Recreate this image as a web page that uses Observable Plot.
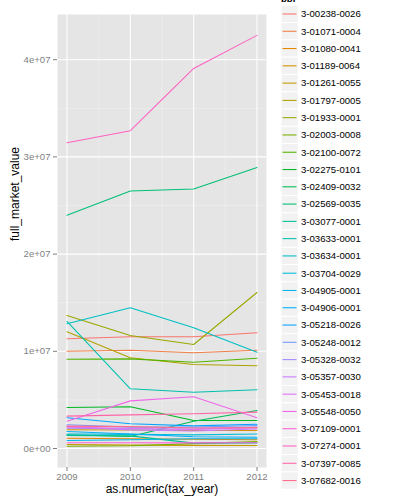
<!DOCTYPE html>
<html><head><meta charset="utf-8">
<script src="https://cdn.jsdelivr.net/npm/d3@7"></script>
<script src="https://cdn.jsdelivr.net/npm/@observablehq/plot@0.6"></script>
<style>
body{margin:0;background:#fff;}
#wrap{position:relative;width:396px;height:504px;overflow:hidden;font-family:"Liberation Sans",Arial,sans-serif;}
#wrap svg{position:absolute;left:0;top:0;}
</style></head><body><div id="wrap"></div>
<script>
const years = [2009, 2010, 2011, 2012];
const bbl = ["3-00238-0026","3-01071-0004","3-01080-0041","3-01189-0064","3-01261-0055","3-01797-0005","3-01933-0001","3-02003-0008","3-02100-0072","3-02275-0101","3-02409-0032","3-02569-0035","3-03077-0001","3-03633-0001","3-03634-0001","3-03704-0029","3-04905-0001","3-04906-0001","3-05218-0026","3-05248-0012","3-05328-0032","3-05357-0030","3-05453-0018","3-05548-0050","3-07109-0001","3-07274-0001","3-07397-0085","3-07682-0016"];
const v2009 = [11.3e6,10.0e6,1.06e6,1.92e6,0.41e6,12.0e6,13.68e6,0.24e6,9.19e6,4.22e6,1.41e6,24.0e6,1.34e6,13.07e6,12.83e6,1.5e6,0.82e6,1.75e6,3.16e6,2.44e6,2.09e6,2.26e6,2.2e6,2.81e6,0.59e6,31.45e6,3.33e6,2.3e6];
const v2010 = [11.5e6,10.1e6,1.0e6,1.9e6,0.35e6,9.33e6,11.63e6,0.28e6,9.22e6,4.29e6,1.23e6,26.5e6,1.3e6,6.14e6,14.47e6,1.45e6,0.9e6,1.5e6,2.54e6,2.2e6,2.0e6,1.9e6,2.05e6,4.9e6,0.6e6,32.7e6,3.46e6,2.25e6];
const v2011 = [11.5e6,9.85e6,0.95e6,1.85e6,0.32e6,8.64e6,10.7e6,0.5e6,8.88e6,2.88e6,2.81e6,26.7e6,0.55e6,5.79e6,12.42e6,1.4e6,1.0e6,1.2e6,2.33e6,2.2e6,2.0e6,1.8e6,1.95e6,5.32e6,0.58e6,39.1e6,3.57e6,2.1e6];
const v2012 = [11.9e6,10.1e6,0.9e6,1.85e6,0.31e6,8.51e6,16.05e6,0.72e6,9.29e6,2.88e6,3.91e6,28.9e6,0.58e6,6.04e6,9.91e6,1.5e6,1.0e6,1.16e6,2.49e6,2.37e6,2.2e6,2.0e6,2.15e6,3.16e6,0.6e6,42.5e6,3.74e6,2.15e6];
const yTicks = [0, 1e7, 2e7, 3e7, 4e7];
const yTickLabels = ["0e+00", "1e+07", "2e+07", "3e+07", "4e+07"];
const xMinor = [2009.5, 2010.5, 2011.5];
const yMinor = [0.5e7, 1.5e7, 2.5e7, 3.5e7];

// R's hcl() (polar LUV) -> sRGB hex, as used by ggplot2's hue palette
function hclR(h, c, l) {
  const WX = 95.047, WY = 100.0, WZ = 108.883;
  const hr = h * Math.PI / 180;
  const U = c * Math.cos(hr), V = c * Math.sin(hr);
  const Y = l > 7.999592 ? WY * Math.pow((l + 16) / 116, 3) : WY * l / 903.3;
  const t = WX + WY + WZ, x = WX / t, y = WY / t;
  const uN = 2 * x / (6 * y - x + 1.5), vN = 4.5 * y / (6 * y - x + 1.5);
  const u = U / (13 * l) + uN, v = V / (13 * l) + vN;
  const X = 9 * Y * u / (4 * v);
  const Z = -X / 3 - 5 * Y + 3 * Y / v;
  const lin = [(3.240479 * X - 1.537150 * Y - 0.498535 * Z) / WY,
               (-0.969256 * X + 1.875992 * Y + 0.041556 * Z) / WY,
               (0.055648 * X - 0.204043 * Y + 1.057311 * Z) / WY];
  const g = q => { q = q <= 0.0031308 ? 12.92 * q : 1.055 * Math.pow(q, 1 / 2.4) - 0.055; return Math.round(255 * Math.max(0, Math.min(1, q))); };
  return d3.rgb(...lin.map(g)).formatHex();
}
const palette = bbl.map((_, i) => hclR(15 + 360 * i / bbl.length, 100, 65));

const rows = [];
bbl.forEach((b, i) => {
  [v2009, v2010, v2011, v2012].forEach((arr, j) => rows.push({bbl: b, year: years[j], value: arr[i]}));
});
const yLab = new Map(yTicks.map((t, i) => [t, yTickLabels[i]]));
const font = '"Liberation Sans", Arial, sans-serif';

const chart = Plot.plot({
  width: 396, height: 504,
  marginLeft: 57, marginRight: 130, marginTop: 14, marginBottom: 37,
  style: {fontFamily: font, fontSize: "9.6px", background: "transparent", overflow: "visible"},
  x: {domain: [2008.85, 2012.15]},
  y: {domain: [-0.1955e7, 4.465e7]},
  color: {domain: bbl, range: palette},
  marks: [
    Plot.frame({fill: "#E5E5E5", stroke: "none"}),
    Plot.gridX(xMinor, {stroke: "#F2F2F2", strokeOpacity: 1, strokeWidth: 0.55}),
    Plot.gridY(yMinor, {stroke: "#F2F2F2", strokeOpacity: 1, strokeWidth: 0.55}),
    Plot.gridX(years, {stroke: "white", strokeOpacity: 1, strokeWidth: 1.07}),
    Plot.gridY(yTicks, {stroke: "white", strokeOpacity: 1, strokeWidth: 1.07}),
    Plot.line(rows, {x: "year", y: "value", z: "bbl", stroke: "bbl", strokeWidth: 1.07}),
    Plot.axisX(years, {tickSize: 4, tickPadding: 2, tickFormat: d => String(d), color: "#7F7F7F", label: null}),
    Plot.axisY(yTicks, {tickSize: 4, tickPadding: 3, tickFormat: d => yLab.get(d), color: "#7F7F7F", label: null}),
    Plot.text(["as.numeric(tax_year)"], {text: d => d, frameAnchor: "bottom", dy: 25.5, fontSize: 12, fill: "black"}),
    Plot.text(["full_market_value"], {text: d => d, frameAnchor: "left", rotate: -90, dx: -42, fontSize: 12, fill: "black"})
  ]
});
document.getElementById("wrap").appendChild(chart);

// legend
const leg = d3.select("#wrap").append("svg").attr("width", 396).attr("height", 504)
  .style("font-family", font).style("font-size", "9.6px");
const ky = d3.scalePoint().domain(bbl).range([14, 14 + 17.28 * (bbl.length - 1)]);
leg.append("text").attr("x", 281).attr("y", 2).attr("font-weight", "bold").text("bbl");
const item = leg.selectAll("g.k").data(bbl).join("g").attr("class", "k")
  .attr("transform", d => `translate(0,${ky(d)})`);
item.append("rect").attr("x", 281).attr("y", -8.64).attr("width", 17.28).attr("height", 17.28)
  .attr("fill", "#F2F2F2").attr("stroke", "white").attr("stroke-width", 1);
item.append("line").attr("x1", 282.5).attr("x2", 296.5).attr("y1", 0).attr("y2", 0)
  .attr("stroke", (d, i) => palette[i]).attr("stroke-width", 1.07);
item.append("text").attr("x", 301).attr("dy", "0.35em").attr("fill", "black").text(d => d);
</script></body></html>
